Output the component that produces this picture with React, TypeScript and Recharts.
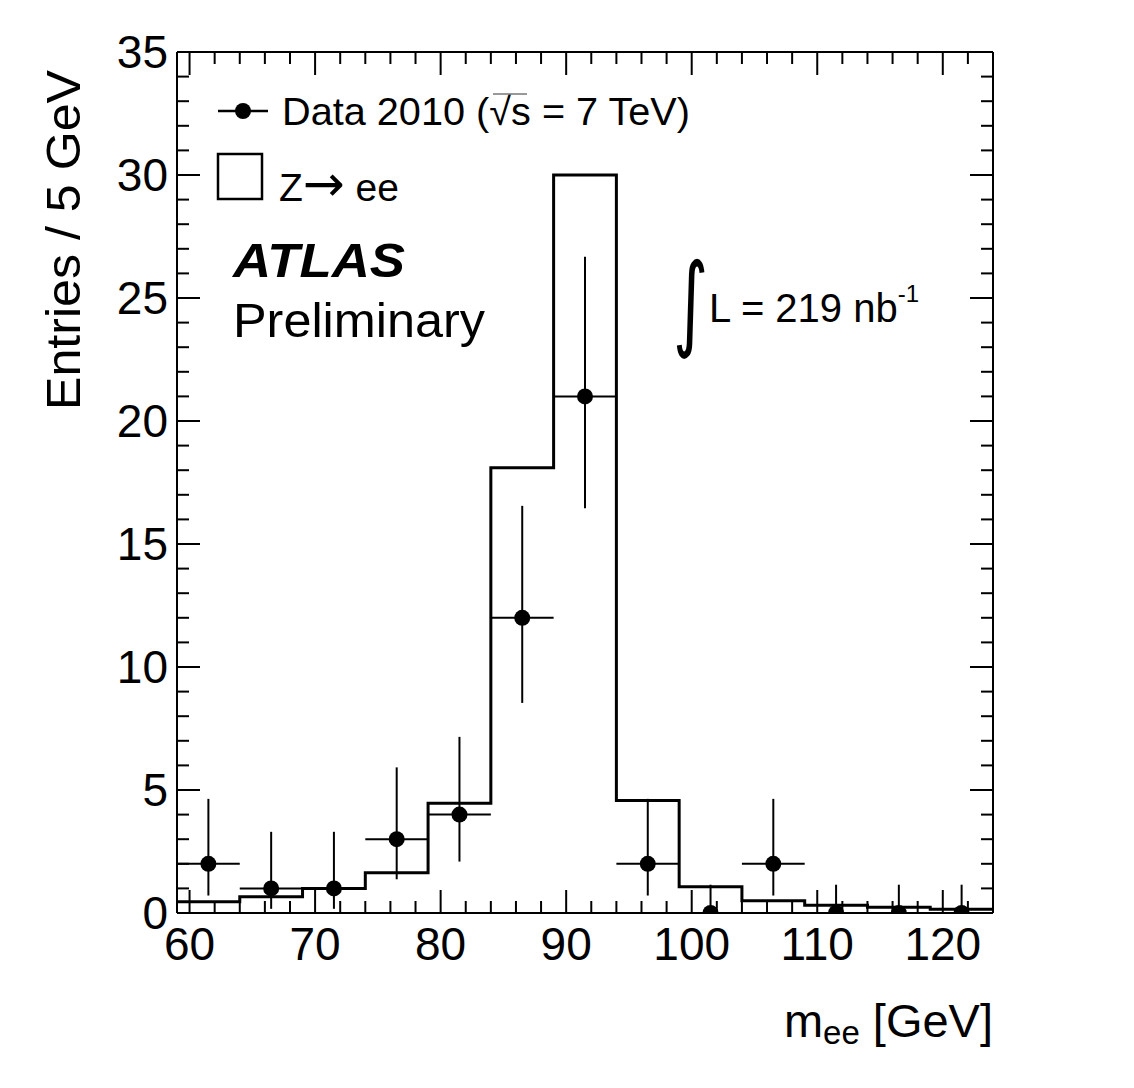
import React from 'react';
import { ComposedChart, Line, Scatter, ErrorBar, XAxis, YAxis } from 'recharts';

// bins are 5 GeV wide, lower edges
const binEdges = [59, 64, 69, 74, 79, 84, 89, 94, 99, 104, 109, 114, 119, 124];
const binCenters = [61.5, 66.5, 71.5, 76.5, 81.5, 86.5, 91.5, 96.5, 101.5, 106.5, 111.5, 116.5, 121.5];
const mcValues = [0.46, 0.66, 1.0, 1.64, 4.46, 18.1, 30.0, 4.57, 1.07, 0.5, 0.31, 0.23, 0.15];
const dataCounts = [2, 1, 1, 3, 4, 12, 21, 2, 0, 2, 0, 0, 0];
const errLow = [1.29, 0.83, 0.83, 1.63, 1.91, 3.46, 4.55, 1.29, 0, 1.29, 0, 0, 0];
const errHigh = [2.64, 2.3, 2.3, 2.92, 3.16, 4.55, 5.68, 2.64, 1.15, 2.64, 1.15, 1.15, 1.15];
const binHalfWidth = 2.5;

const xTicks = [60, 62, 64, 66, 68, 70, 72, 74, 76, 78, 80, 82, 84, 86, 88, 90, 92, 94, 96, 98, 100, 102, 104, 106, 108, 110, 112, 114, 116, 118, 120, 122, 124];
const yTicks = [0, 1, 2, 3, 4, 5, 6, 7, 8, 9, 10, 11, 12, 13, 14, 15, 16, 17, 18, 19, 20, 21, 22, 23, 24, 25, 26, 27, 28, 29, 30, 31, 32, 33, 34, 35];

const histData = binEdges.map((x, i) => ({ x, y: mcValues[Math.min(i, mcValues.length - 1)] }));
const pointData = binCenters.map((x, i) => ({
  x,
  y: dataCounts[i],
  ey: [errLow[i], errHigh[i]],
  ex: binHalfWidth,
}));

const FONT = '"Liberation Sans", Arial, Helvetica, sans-serif';
const MAJOR = 23;
const MINOR = 12;

const XTick = (props: any) => {
  const { x, y, payload, side } = props;
  const major = payload.value % 10 === 0;
  const len = major ? MAJOR : MINOR;
  const dir = side === 'top' ? 1 : -1;
  return (
    <g>
      <line x1={x} x2={x} y1={y} y2={y + dir * len} stroke="#000" strokeWidth={2} />
      {side === 'bottom' && major && (
        <text x={x} y={y + 47} textAnchor="middle" fontFamily={FONT} fontSize={46} fill="#000">
          {payload.value}
        </text>
      )}
    </g>
  );
};

const YTick = (props: any) => {
  const { x, y, payload, side } = props;
  const major = payload.value % 5 === 0;
  const len = major ? MAJOR : MINOR;
  const dir = side === 'left' ? 1 : -1;
  return (
    <g>
      <line x1={x} x2={x + dir * len} y1={y} y2={y} stroke="#000" strokeWidth={2} />
      {side === 'left' && major && (
        <text x={x - 9} y={y + 16} textAnchor="end" fontFamily={FONT} fontSize={46} fill="#000">
          {payload.value}
        </text>
      )}
    </g>
  );
};

const Dot = (props: any) => <circle cx={props.cx} cy={props.cy} r={8} fill="#000" />;

const Overlay = () => (
  <svg width={1134} height={1088} style={{ position: 'absolute', left: 0, top: 0, pointerEvents: 'none' }}>
    <g fontFamily={FONT} fill="#000">
      {/* axis titles */}
      <text transform="translate(80,70) rotate(-90)" textAnchor="end" fontSize={48} textLength={340} lengthAdjust="spacingAndGlyphs">
        Entries / 5 GeV
      </text>
      <text x={993} y={1037} textAnchor="end" fontSize={47}>
        m<tspan fontSize={33} dy={7}>ee</tspan>
        <tspan dy={-7}> [GeV]</tspan>
      </text>

      {/* legend */}
      <line x1={218} x2={268} y1={111} y2={111} stroke="#000" strokeWidth={2.5} />
      <circle cx={243} cy={111} r={8} fill="#000" />
      <text x={282} y={125} fontSize={39} textLength={408} lengthAdjust="spacingAndGlyphs">
        Data 2010 (√s = 7 TeV)
      </text>
      <line x1={493} x2={527} y1={94} y2={94} stroke="#777" strokeWidth={1.5} />
      <rect x={218} y={154} width={44} height={45} fill="none" stroke="#000" strokeWidth={2.5} />
      <text x={279} y={201} fontSize={39}>
        Z<tspan fontFamily="DejaVu Sans" fontSize={50}>→</tspan> ee
      </text>

      <text x={233} y={277} fontSize={48} fontWeight="bold" fontStyle="italic" textLength={172} lengthAdjust="spacingAndGlyphs">
        ATLAS
      </text>
      <text x={233} y={337} fontSize={48} textLength={252} lengthAdjust="spacingAndGlyphs">
        Preliminary
      </text>

      <text transform="translate(673,337) scale(0.72,1.1)" fontSize={94} fontFamily="DejaVu Sans">
        ∫
      </text>
      <text x={709} y={322} fontSize={40}>
        L = 219 nb<tspan fontSize={24} dy={-20}>-1</tspan>
      </text>
    </g>
  </svg>
);

export default function App() {
  return (
    <div style={{ position: 'relative', width: 1134, height: 1088, background: '#fff' }}>
      <style>{'body{margin:0;background:#fff}'}</style>
      <ComposedChart width={1134} height={1088} margin={{ top: 51, right: 140, bottom: 174, left: 176 }}>
        <XAxis
          xAxisId="b"
          dataKey="x"
          type="number"
          orientation="bottom"
          domain={[59, 124]}
          ticks={xTicks}
          interval={0}
          height={1}
          tickSize={0}
          tickMargin={0}
          allowDataOverflow
          axisLine={{ stroke: '#000', strokeWidth: 2 }}
          tickLine={false}
          tick={<XTick side="bottom" />}
        />
        <XAxis
          xAxisId="t"
          dataKey="x"
          type="number"
          orientation="top"
          domain={[59, 124]}
          ticks={xTicks}
          interval={0}
          height={1}
          tickSize={0}
          tickMargin={0}
          allowDataOverflow
          axisLine={{ stroke: '#000', strokeWidth: 2 }}
          tickLine={false}
          tick={<XTick side="top" />}
        />
        <YAxis
          yAxisId="l"
          dataKey="y"
          type="number"
          domain={[0, 35]}
          ticks={yTicks}
          interval={0}
          width={1}
          tickSize={0}
          tickMargin={0}
          allowDataOverflow
          axisLine={{ stroke: '#000', strokeWidth: 2 }}
          tickLine={false}
          tick={<YTick side="left" />}
        />
        <YAxis
          yAxisId="r"
          dataKey="y"
          type="number"
          orientation="right"
          domain={[0, 35]}
          ticks={yTicks}
          interval={0}
          width={1}
          tickSize={0}
          tickMargin={0}
          allowDataOverflow
          axisLine={{ stroke: '#000', strokeWidth: 2 }}
          tickLine={false}
          tick={<YTick side="right" />}
        />
        <Line
          xAxisId="b"
          yAxisId="l"
          data={histData}
          dataKey="y"
          type="stepAfter"
          stroke="#000"
          strokeWidth={3}
          dot={false}
          activeDot={false}
          isAnimationActive={false}
        />
        <Scatter
          xAxisId="b"
          yAxisId="l"
          data={pointData}
          dataKey="y"
          shape={<Dot />}
          isAnimationActive={false}
        >
          <ErrorBar dataKey="ey" direction="y" width={0} stroke="#000" strokeWidth={2} />
          <ErrorBar dataKey="ex" direction="x" width={0} stroke="#000" strokeWidth={2} />
        </Scatter>
      </ComposedChart>
      <Overlay />
    </div>
  );
}
